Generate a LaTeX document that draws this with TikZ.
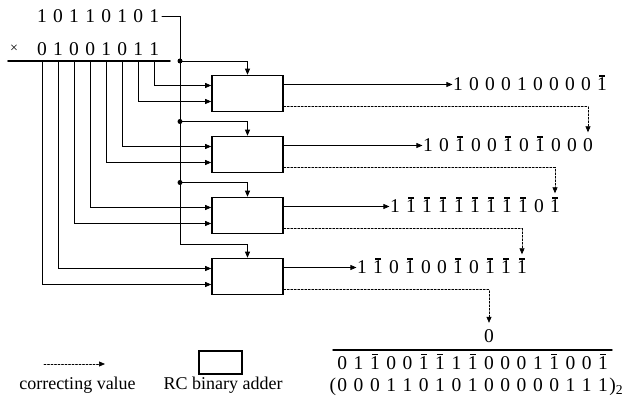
\documentclass[tikz,border=0pt]{standalone}
\usepackage{fontspec}
\setmainfont{Liberation Serif}
\usetikzlibrary{arrows.meta}
\newcommand{\mone}{\leavevmode\setbox0\hbox{1}\rlap{\raisebox{1.12\ht0}{\hbox to\wd0{\hss\rule{0.6\wd0}{0.07em}\hss}}}1}

\begin{document}
\begin{tikzpicture}[x=1pt,y=-1pt,>={Triangle[length=6pt,width=5pt]},line cap=round,
  dg/.style={inner sep=0.5pt,text height=13pt,text depth=0pt,font=\fontsize{19.5}{19.5}\selectfont},
  lbl/.style={anchor=base,inner sep=0pt,font=\fontsize{18}{18}\selectfont},
  adder/.style={draw,line width=1.6pt,minimum width=71pt,minimum height=36pt,inner sep=0pt},
  wire/.style={line width=0.7pt},
  corr/.style={wire,dash pattern=on 2pt off 1.5pt}]
\useasboundingbox (0,0) rectangle (630,406);
\foreach \d [count=\i] in {1,0,1,1,0,1,0,1}
  \node[dg] (a\i) at ({42+16.05*(\i-1)},16) {\d};
\foreach \d [count=\i] in {0,1,0,0,1,0,1,1}
  \node[dg] (m\i) at ({42+16.05*(\i-1)},49) {\d};
\node[font=\fontsize{14}{14}\selectfont] (times) at (14,49) {\texttimes};
\coordinate (rl) at (8,61);
\coordinate (rr) at (170,61);
\draw[line width=1.6pt] (rl) -- (rr);
\foreach \k in {1,...,4}
  \node[adder] (add\k) at (247.5,{93.5+61*(\k-1)}) {};
\coordinate (d1) at (180,61);
\coordinate (d2) at (180,121.5);
\coordinate (d3) at (180,182.5);
\coordinate (t4) at (180,244);
\draw[wire,->] ([xshift=2pt]a8.east) -| (t4) -| (add4.north);
\foreach \k in {1,2,3}{
  \fill (d\k) circle (2.5pt);
  \draw[wire,->] (d\k) -| (add\k.north);
}
\foreach \k/\u/\l in {1/8/7,2/6/5,3/4/3,4/2/1}{
  \draw[wire,->] (m\u |- rl) |- ([yshift=8pt]add\k.west);
  \draw[wire,->] (m\l |- rl) |- ([yshift=-8pt]add\k.west);
}
\foreach \d [count=\i] in {1,0,0,0,1,0,0,0,0,\mone}
  \node[dg] (r1-\i) at ({458+16*(\i-1)},84.5) {\d};
\foreach \d [count=\i] in {1,0,\mone,0,0,\mone,0,\mone,0,0,0}
  \node[dg] (r2-\i) at ({428+16*(\i-1)},145.5) {\d};
\foreach \d [count=\i] in {1,\mone,\mone,\mone,\mone,\mone,\mone,\mone,\mone,0,\mone}
  \node[dg] (r3-\i) at ({395+16*(\i-1)},206.5) {\d};
\foreach \d [count=\i] in {1,\mone,0,\mone,0,0,\mone,0,\mone,\mone,\mone}
  \node[dg] (r4-\i) at ({362+16*(\i-1)},267.5) {\d};
\node[dg] (zero) at (489,336) {0};
\foreach \k in {1,...,4}
  \draw[wire,->] (add\k.east |- r\k-1) -- (r\k-1);
\draw[corr,->,shorten >=6pt] ([yshift=-13pt]add1.east) -| (r2-11.north);
\draw[corr,->,shorten >=6pt] ([yshift=-13pt]add2.east) -| (r3-11.north);
\draw[corr,->,shorten >=6pt] ([yshift=-13pt]add3.east) -| (r4-11.north);
\draw[corr,->,shorten >=6pt] ([yshift=-13pt]add4.east) -| (zero.north);
\draw[line width=1.4pt] (333,350) -- (612,350);
\foreach \d [count=\i] in {0,1,\mone,0,0,\mone,\mone,1,\mone,0,0,0,1,\mone,0,0,\mone}
  \node[dg] (f\i) at ({342.3+16.3*(\i-1)},363) {\d};
\foreach \d [count=\i] in {0,0,0,1,1,0,1,0,1,0,0,0,0,0,1,1,1}
  \node[dg] (g\i) at ({342.3+16.3*(\i-1)},385) {\d};
\node[dg,anchor=east] (lp) at (g1.west) {(};
\node[dg,anchor=west] (rp) at (g17.east) {)\textsubscript{2}};
\coordinate (ls) at (44,364);
\coordinate (le) at (105,364);
\draw[corr,->] (ls) -- (le);
\node[lbl] (lc) at (77.5,389) {correcting value};
\node[adder,line width=1.4pt,minimum width=43pt,minimum height=23pt] (lbox) at (220.5,362.5) {};
\node[lbl] (lr) at (223,389) {RC binary adder};
\end{tikzpicture}
\end{document}
